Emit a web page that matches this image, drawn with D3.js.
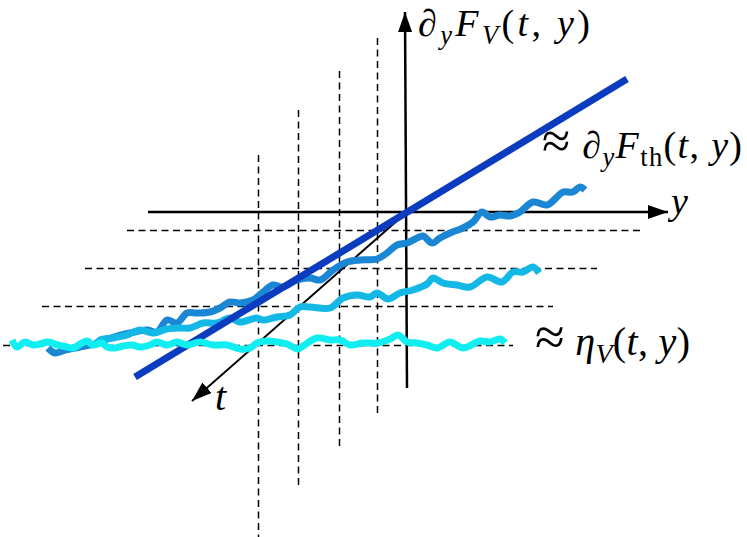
<!DOCTYPE html>
<html>
<head>
<meta charset="utf-8">
<script src="https://cdn.jsdelivr.net/npm/d3@7"></script>
<style>
  body { margin: 0; background: #fff; }
  text { font-family: "Liberation Serif", serif; fill: #000; }
</style>
</head>
<body>
<div id="chart"></div>
<script>
// coordinates are [y, value] with origin at the crossing of the axes
// (value grows upward)
var thermalLine = [[-272, -165], [220, 133]];

var traceHigh = [[-359,-136],[-352,-141],[-342,-138],[-327,-135],[-312,-132],[-302,-128],[-290,-124],
  [-277,-121],[-260,-118],[-250,-120],[-240,-108],[-230,-111],[-220,-101],[-210,-101],[-197,-100],
  [-187,-96],[-177,-90],[-167,-91],[-154,-88],[-144,-80],[-134,-73],[-124,-75],[-110,-68],[-97,-66],
  [-87,-68],[-74,-58],[-60,-50],[-47,-48],[-30,-47],[-20,-41],[-10,-33],[0,-31],[10,-26],[16,-24],
  [25,-31],[33,-26],[43,-21],[56,-16],[66,-10],[75,0],[83,-5],[93,-3],[103,-4],[113,0],[126,10],
  [140,7],[150,15],[156,20],[166,20],[173,25],[178,22]];

var traceMid = [[-312,-133],[-307,-128],[-294,-126],[-280,-123],[-267,-118],[-254,-121],[-240,-117],
  [-227,-116],[-217,-116],[-204,-111],[-190,-111],[-177,-106],[-167,-110],[-150,-106],[-144,-108],
  [-130,-105],[-117,-103],[-107,-95],[-97,-95],[-77,-96],[-64,-86],[-50,-83],[-37,-85],[-30,-81],
  [-19,-87],[-7,-81],[6,-78],[20,-72],[26,-66],[36,-71],[50,-73],[63,-75],[80,-65],[95,-70],
  [106,-60],[116,-60],[126,-55],[132,-61]];

var traceLow = [[-395,-128],[-390,-135],[-382,-130],[-374,-133],[-367,-132],[-359,-130],[-349,-133],
  [-340,-135],[-334,-136],[-325,-131],[-320,-129],[-314,-133],[-305,-131],[-300,-135],[-292,-136],
  [-284,-134],[-275,-133],[-267,-135],[-257,-133],[-250,-130],[-240,-133],[-230,-130],[-220,-133],
  [-207,-130],[-194,-133],[-180,-133],[-167,-137],[-157,-136],[-150,-131],[-140,-129],[-130,-130],
  [-120,-132],[-109,-137],[-104,-134],[-90,-126],[-77,-128],[-67,-128],[-57,-133],[-44,-131],
  [-29,-131],[-17,-127],[-9,-123],[0,-130],[10,-131],[20,-133],[30,-136],[43,-130],[56,-136],
  [73,-129],[83,-130],[93,-127],[98,-131]];

// dashed slices: horizontal ones (value, from, to) and vertical ones (y, top, bottom)
var sliceLevels = [-18, -56, -94, -133];
var sliceFrom = [-280, -322, -365, -404];
var sliceTo = [233, 190, 146, 106];
var columnAt = [-30, -68, -109, -149];
var columnTop = [174, 141, 102, 57];
var columnBottom = [-205, -237, -276, -325];

// axes
var yAxisRange = [-259, 261];
var valueAxisRange = [-176, 200];
var tAxisEnd = [-215, -189];

var width = 747, height = 537;

var x = d3.scaleLinear().domain([-407, 340]).range([0, width]);
var y = d3.scaleLinear().domain([212, -325]).range([0, height]);

var svg = d3.select("#chart").append("svg")
    .attr("width", width)
    .attr("height", height);

svg.append("defs").append("marker")
    .attr("id", "arrow")
    .attr("viewBox", "0 0 20 14")
    .attr("refX", 20).attr("refY", 7)
    .attr("markerWidth", 20).attr("markerHeight", 14)
    .attr("markerUnits", "userSpaceOnUse")
    .attr("orient", "auto")
    .append("path").attr("d", "M0,0 L20,7 L0,14 Z").attr("fill", "#000");

// grid
var grid = svg.append("g")
    .attr("stroke", "#000")
    .attr("stroke-width", 1.5)
    .attr("stroke-dasharray", "7,4.5");

grid.selectAll(".hslice").data(sliceLevels).enter().append("line")
    .attr("x1", function (d, i) { return x(sliceFrom[i]); })
    .attr("x2", function (d, i) { return x(sliceTo[i]); })
    .attr("y1", function (d) { return Math.round(y(d)) + 0.5; })
    .attr("y2", function (d) { return Math.round(y(d)) + 0.5; });

grid.selectAll(".vslice").data(columnAt).enter().append("line")
    .attr("x1", function (d) { return Math.round(x(d)) + 0.5; })
    .attr("x2", function (d) { return Math.round(x(d)) + 0.5; })
    .attr("y1", function (d, i) { return y(columnTop[i]); })
    .attr("y2", function (d, i) { return y(columnBottom[i]); });

// axes
var axes = svg.append("g").attr("stroke", "#000").attr("fill", "none");
axes.append("line")
    .attr("x1", x(yAxisRange[0])).attr("y1", y(0))
    .attr("x2", x(yAxisRange[1])).attr("y2", y(0))
    .attr("stroke-width", 2.5).attr("marker-end", "url(#arrow)");
axes.append("line")
    .attr("x1", x(0)).attr("y1", y(valueAxisRange[0]))
    .attr("x2", x(-2)).attr("y2", y(valueAxisRange[1]))
    .attr("stroke-width", 2.5).attr("marker-end", "url(#arrow)");
axes.append("line")
    .attr("x1", x(0)).attr("y1", y(0))
    .attr("x2", x(tAxisEnd[0])).attr("y2", y(tAxisEnd[1]))
    .attr("stroke-width", 2).attr("marker-end", "url(#arrow)");

// curves
var line = d3.line()
    .curve(d3.curveCatmullRom.alpha(0.5))
    .x(function (d) { return x(d[0]); })
    .y(function (d) { return y(d[1]); });

var curves = [
    { data: traceHigh, color: "#1a86d4" },
    { data: traceMid, color: "#14b8e6" },
    { data: thermalLine, color: "#0b3cbf" },
    { data: traceLow, color: "#10eef2" }
];

svg.append("g").selectAll("path").data(curves).enter().append("path")
    .attr("d", function (d) { return line(d.data); })
    .attr("fill", "none")
    .attr("stroke", function (d) { return d.color; })
    .attr("stroke-width", 7)
    .attr("stroke-linejoin", "round");

// labels, math-style: [text, italic, subscript, scale]
function label(px, py, parts, size, len) {
    var t = svg.append("text").attr("x", px).attr("y", py).attr("font-size", size);
    var shift = 0;
    parts.forEach(function (p) {
        var s = t.append("tspan").text(p[0])
            .attr("font-style", p[1] ? "italic" : "normal");
        var want = p[2] ? size * 0.2 : 0;
        s.attr("dy", want - shift);
        if (p[2]) s.attr("font-size", size * 0.7);
        if (p[3]) s.attr("font-size", size * p[3]);
        shift = want;
    });
    if (len) t.attr("textLength", len).attr("lengthAdjust", "spacing");
    return t;
}

label(418, 36, [["∂", 1], ["y", 1, 1], ["F", 1], ["V", 1, 1], ["(", 0], ["t", 1], [", ", 0], ["y", 1], [")", 0]], 38, 172);
label(542, 158, [["≈", 0, 0, 1.35], [" ", 0], ["∂", 1], ["y", 1, 1], ["F", 1], ["th", 0, 1], ["(", 0], ["t", 1], [", ", 0], ["y", 1], [")", 0]], 38, 200);
label(535, 355, [["≈", 0, 0, 1.35], [" ", 0], ["η", 1], ["V", 1, 1], ["(", 0], ["t", 1], [", ", 0], ["y", 1], [")", 0]], 40, 155);
label(671, 214, [["y", 1]], 38);
label(215, 410, [["t", 1]], 40);
</script>
</body>
</html>
